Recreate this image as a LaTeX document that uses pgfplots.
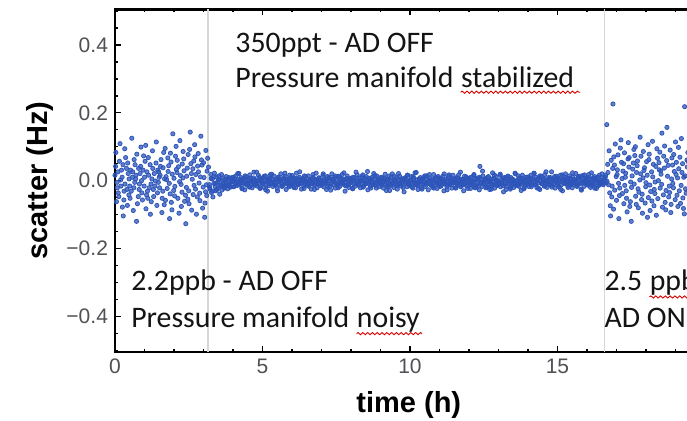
\documentclass[border=0pt]{standalone}
\usepackage{fontspec}
\setmainfont{Liberation Sans}
\newfontfamily\carlito{Carlito}
\usepackage{pgfplots}
\pgfplotsset{compat=1.18}
\usetikzlibrary{decorations.pathmorphing}
\definecolor{dotblue}{RGB}{45,85,185}
\definecolor{ticklab}{RGB}{80,80,85}
\definecolor{sepgray}{RGB}{215,215,215}
\begin{document}
\begin{tikzpicture}
\begin{axis}[
  scale only axis, width=295pt, height=171.35pt,
  xmin=0, xmax=20, ymin=-0.505, ymax=0.505,
  xtick={0,5,10,15,20}, xticklabels={0,5,10,15,20},
  ytick={-0.4,-0.2,0,0.2,0.4}, yticklabels={−0.4,−0.2,0.0,0.2,0.4},
  minor xtick={0,1,...,20},
  minor ytick={-0.5,-0.45,...,0.51},
  tick align=inside,
  major tick length=2.8pt, minor tick length=1.5pt,
  tick style={black, line width=0.7pt},
  axis line style={line width=1.3pt, black},
  tick label style={font=\fontsize{10.5}{12}\selectfont, text=ticklab},
  every axis x label/.style={at={(axis description cs:0.498,-0.155)}, anchor=center, font=\bfseries\fontsize{14.5}{17}\selectfont},
  every axis y label/.style={at={(axis description cs:-0.127,0.5)}, anchor=center, rotate=90, font=\bfseries\fontsize{14.5}{17}\selectfont},
  xlabel={time (h)}, ylabel={scatter (Hz)},
  dots/.style={only marks, color=dotblue, mark=*, mark size=1.05pt, mark options={draw=none, fill=dotblue, fill opacity=0.75}},
]
\addplot[sepgray, line width=0.8pt] coordinates {(3.16,-0.6)(3.16,0.6)};
\addplot[sepgray, line width=0.8pt] coordinates {(16.6,-0.6)(16.6,0.6)};
% segment 1: 2.2 ppb, AD off, noisy manifold
\addplot[dots] coordinates {
(0.00,0.016)(0.05,-0.062)(0.02,0.042)(0.08,-0.021)(0.03,0.083)(0.07,-0.005)
(0.13,-0.047)(0.10,0.026)(0.17,0.109)(0.11,-0.036)(0.19,0.002)(0.15,0.057)
(0.25,-0.078)(0.22,0.031)(0.20,-0.016)(0.27,0.047)(0.28,-0.104)(0.24,0.010)
(0.36,0.068)(0.31,-0.031)(0.34,-0.010)(0.39,0.036)(0.30,-0.057)(0.33,0.094)
(0.40,-0.026)(0.45,0.021)(0.42,-0.073)(0.48,0.005)(0.43,0.052)(0.47,-0.042)
(0.53,0.031)(0.50,-0.016)(0.57,0.125)(0.51,-0.052)(0.59,0.010)(0.55,-0.031)
(0.65,0.062)(0.62,-0.088)(0.60,0.026)(0.67,-0.005)(0.68,0.047)(0.64,-0.021)
(0.76,-0.068)(0.71,0.016)(0.74,0.078)(0.79,-0.047)(0.70,0.005)(0.73,-0.120)
(0.80,0.036)(0.85,0.021)(0.82,-0.026)(0.88,0.099)(0.83,-0.010)(0.87,0.042)
(0.93,-0.057)(0.90,0.000)(0.97,0.073)(0.91,-0.036)(0.99,-0.016)(0.95,0.031)
(1.05,-0.083)(1.02,0.057)(1.00,0.010)(1.07,-0.042)(1.08,0.026)(1.04,0.104)
(1.16,-0.021)(1.11,-0.052)(1.14,0.016)(1.19,0.047)(1.10,-0.031)(1.13,0.068)
(1.20,-0.099)(1.25,0.005)(1.22,-0.010)(1.28,0.036)(1.23,-0.062)(1.27,0.088)
(1.33,0.021)(1.30,-0.026)(1.37,-0.001)(1.31,-0.047)(1.39,0.052)(1.35,-0.016)
(1.45,0.031)(1.42,-0.073)(1.40,0.114)(1.47,-0.005)(1.48,0.026)(1.44,-0.036)
(1.56,0.062)(1.51,-0.021)(1.54,0.042)(1.59,-0.094)(1.50,0.010)(1.53,0.016)
(1.60,-0.052)(1.65,0.083)(1.62,-0.031)(1.68,0.005)(1.63,0.038)(1.67,-0.071)
(1.73,0.012)(1.70,0.095)(1.77,-0.023)(1.71,-0.058)(1.79,0.067)(1.75,0.003)
(1.85,-0.112)(1.82,0.044)(1.80,0.027)(1.87,-0.039)(1.88,0.081)(1.84,-0.008)
(1.96,0.138)(1.91,-0.064)(1.94,0.019)(1.99,-0.029)(1.90,0.055)(1.93,-0.086)
(2.00,0.007)(2.05,0.072)(2.02,-0.045)(2.08,0.033)(2.03,-0.017)(2.07,0.101)
(2.13,-0.052)(2.10,0.024)(2.17,-0.096)(2.11,0.060)(2.19,-0.003)(2.15,0.041)
(2.25,-0.076)(2.22,0.015)(2.20,0.118)(2.27,-0.034)(2.28,0.049)(2.24,-0.011)
(2.36,-0.061)(2.31,0.086)(2.34,0.029)(2.39,-0.043)(2.30,0.008)(2.33,0.064)
(2.40,-0.127)(2.45,0.037)(2.42,-0.020)(2.48,0.077)(2.43,0.013)(2.47,-0.055)
(2.53,0.092)(2.50,-0.030)(2.57,0.050)(2.51,-0.068)(2.59,0.021)(2.55,0.143)
(2.65,-0.041)(2.62,0.004)(2.60,-0.087)(2.67,0.058)(2.68,-0.014)(2.64,0.035)
(2.76,-0.099)(2.71,0.070)(2.74,0.018)(2.79,-0.048)(2.70,0.106)(2.73,-0.025)
(2.80,0.043)(2.85,-0.007)(2.82,0.080)(2.88,-0.059)(2.83,0.026)(2.87,-0.037)
(2.93,0.061)(2.90,0.011)(2.97,-0.081)(2.91,0.131)(2.99,-0.019)(2.95,0.046)
(3.05,-0.066)(3.02,0.009)(3.00,0.053)(3.07,-0.033)(3.08,0.089)(3.04,-0.108)
(3.12,0.028)(3.10,-0.012)(3.14,0.066)(3.11,-0.044)
};
% segment 2: 350 ppt, AD off, stabilized manifold
\addplot[dots] coordinates {
(3.17,0.040)(3.20,-0.012)(3.22,-0.025)(3.25,0.018)(3.27,-0.035)(3.30,0.005)(3.32,-0.048)(3.35,-0.008)(3.37,0.022)(3.40,-0.018)(3.42,-0.030)(3.45,0.010)(3.47,-0.005)(3.50,-0.022)(3.52,0.014)(3.55,-0.040)(3.57,0.002)(3.60,-0.015)(3.62,-0.028)(3.65,0.008)(3.67,-0.010)(3.70,-0.020)(3.72,0.003)(3.75,-0.016)(3.77,0.012)(3.80,-0.009)(3.82,-0.024)(3.85,0.000)(3.87,-0.013)(3.90,0.006)(3.92,-0.019)(3.95,-0.004)(3.97,0.009)
(4.00,0.000)(4.02,-0.018)(4.05,0.005)(4.07,-0.009)(4.10,0.014)(4.12,-0.005)(4.15,-0.014)(4.17,0.003)(4.20,0.021)(4.22,-0.012)(4.25,-0.004)(4.27,0.009)(4.30,-0.022)(4.32,0.003)(4.35,-0.008)(4.37,0.007)(4.40,-0.027)(4.42,-0.001)(4.45,0.012)(4.47,-0.010)(4.50,-0.007)(4.52,0.004)(4.55,-0.017)(4.57,0.017)(4.60,-0.010)(4.62,0.001)(4.65,-0.021)(4.67,-0.003)(4.70,0.008)(4.72,-0.013)(4.75,0.003)(4.77,-0.008)(4.80,0.025)(4.82,-0.016)(4.85,-0.001)(4.87,-0.010)(4.90,0.010)(4.92,-0.023)(4.95,0.003)(4.97,-0.005)
(5.00,0.007)(5.02,-0.009)(5.05,-0.020)(5.07,0.000)(5.10,0.014)(5.12,-0.014)(5.15,-0.003)(5.17,-0.031)(5.20,0.004)(5.22,0.001)(5.25,-0.010)(5.27,0.018)(5.30,-0.007)(5.32,0.005)(5.35,-0.017)(5.37,-0.004)(5.40,0.013)(5.42,-0.012)(5.45,-0.008)(5.47,0.003)(5.50,-0.022)(5.52,0.009)(5.55,-0.001)(5.57,-0.013)(5.60,0.003)(5.62,0.020)(5.65,-0.009)(5.67,-0.016)(5.70,0.000)(5.72,0.007)(5.75,-0.010)(5.77,0.012)(5.80,-0.026)(5.82,-0.003)(5.85,-0.007)(5.87,0.004)(5.90,-0.018)(5.92,0.016)(5.95,0.001)(5.97,-0.010)
(6.00,-0.004)(6.02,-0.014)(6.05,0.008)(6.07,-0.008)(6.10,0.003)(6.12,-0.021)(6.15,0.022)(6.17,-0.005)(6.20,0.003)(6.22,-0.012)(6.25,0.010)(6.27,-0.009)(6.30,0.005)(6.32,-0.025)(6.35,-0.001)(6.37,0.000)(6.40,-0.016)(6.42,0.014)(6.45,-0.010)(6.47,-0.003)(6.50,-0.003)(6.52,-0.010)(6.55,0.014)(6.57,-0.016)(6.60,0.000)(6.62,-0.001)(6.65,-0.025)(6.67,0.005)(6.70,-0.009)(6.72,0.010)(6.75,-0.012)(6.77,0.003)(6.80,-0.005)(6.82,0.022)(6.85,-0.021)(6.87,0.003)(6.90,-0.008)(6.92,0.008)(6.95,-0.014)(6.97,-0.004)
(7.00,-0.010)(7.02,0.001)(7.05,0.016)(7.07,-0.018)(7.10,0.004)(7.12,-0.007)(7.15,-0.003)(7.17,-0.026)(7.20,0.012)(7.22,-0.010)(7.25,0.007)(7.27,0.000)(7.30,-0.016)(7.32,-0.009)(7.35,0.020)(7.37,0.003)(7.40,-0.013)(7.42,-0.001)(7.45,0.009)(7.47,-0.022)(7.50,0.003)(7.52,-0.008)(7.55,-0.012)(7.57,0.013)(7.60,-0.004)(7.62,-0.017)(7.65,0.005)(7.67,-0.007)(7.70,0.018)(7.72,-0.010)(7.75,0.001)(7.77,0.004)(7.80,-0.031)(7.82,-0.003)(7.85,-0.014)(7.87,0.014)(7.90,0.000)(7.92,-0.020)(7.95,-0.009)(7.97,0.007)
(8.00,-0.005)(8.02,0.003)(8.05,-0.023)(8.07,0.010)(8.10,-0.010)(8.12,-0.001)(8.15,-0.016)(8.17,0.025)(8.20,-0.008)(8.22,0.003)(8.25,-0.013)(8.27,0.008)(8.30,-0.003)(8.32,-0.021)(8.35,0.001)(8.37,-0.010)(8.40,0.017)(8.42,-0.017)(8.45,0.004)(8.47,-0.007)(8.50,-0.010)(8.52,0.012)(8.55,-0.001)(8.57,-0.027)(8.60,0.007)(8.62,-0.008)(8.65,0.003)(8.67,-0.022)(8.70,0.009)(8.72,-0.004)(8.75,-0.012)(8.77,0.021)(8.80,0.003)(8.82,-0.014)(8.85,-0.005)(8.87,0.014)(8.90,-0.009)(8.92,0.005)(8.95,-0.018)(8.97,0.000)
(9.00,-0.008)(9.02,0.010)(9.05,-0.013)(9.07,0.001)(9.10,-0.022)(9.12,-0.003)(9.15,0.007)(9.17,-0.010)(9.20,-0.029)(9.22,0.004)(9.25,-0.004)(9.27,-0.017)(9.30,0.014)(9.32,-0.010)(9.35,0.000)(9.37,-0.014)(9.40,0.020)(9.42,-0.007)(9.45,-0.020)(9.47,0.003)(9.50,-0.001)(9.52,-0.012)(9.55,0.009)(9.57,-0.025)(9.60,0.003)(9.62,-0.009)(9.65,0.013)(9.67,-0.005)(9.70,-0.016)(9.72,0.005)(9.75,-0.010)(9.77,0.000)(9.80,-0.033)(9.82,0.008)(9.85,-0.007)(9.87,0.003)(9.90,-0.018)(9.92,0.016)(9.95,-0.010)(9.97,-0.003)
(10.00,-0.014)(10.02,0.001)(10.05,0.012)(10.07,-0.008)(10.10,-0.022)(10.12,0.007)(10.15,-0.005)(10.17,0.023)(10.20,-0.012)(10.22,-0.009)(10.25,0.003)(10.27,-0.026)(10.30,-0.001)(10.32,-0.013)(10.35,0.009)(10.37,-0.004)(10.40,-0.021)(10.42,0.004)(10.45,0.000)(10.47,-0.010)(10.50,0.014)(10.52,-0.017)(10.55,-0.007)(10.57,0.005)(10.60,-0.010)(10.62,-0.027)(10.65,0.001)(10.67,0.008)(10.70,-0.008)(10.72,-0.014)(10.75,0.003)(10.77,-0.020)(10.80,0.018)(10.82,-0.005)(10.85,-0.001)(10.87,-0.012)(10.90,0.010)(10.92,-0.023)(10.95,-0.009)(10.97,0.003)
(11.00,-0.004)(11.02,0.007)(11.05,-0.016)(11.07,0.000)(11.10,-0.010)(11.12,0.013)(11.15,-0.030)(11.17,-0.003)(11.20,-0.010)(11.22,0.004)(11.25,-0.018)(11.27,0.001)(11.30,-0.013)(11.32,0.017)(11.35,-0.007)(11.37,-0.008)(11.40,0.008)(11.42,-0.022)(11.45,0.003)(11.47,-0.005)(11.50,-0.005)(11.52,0.003)(11.55,-0.022)(11.57,0.008)(11.60,-0.008)(11.62,-0.007)(11.65,0.017)(11.67,-0.013)(11.70,0.001)(11.72,-0.018)(11.75,0.004)(11.77,-0.010)(11.80,-0.003)(11.82,-0.030)(11.85,0.013)(11.87,-0.010)(11.90,0.000)(11.92,-0.016)(11.95,0.007)(11.97,-0.004)
(12.00,0.003)(12.02,-0.009)(12.05,-0.023)(12.07,0.010)(12.10,-0.012)(12.12,-0.001)(12.15,-0.005)(12.17,0.018)(12.20,-0.020)(12.22,0.003)(12.25,-0.014)(12.27,-0.008)(12.30,0.008)(12.32,0.001)(12.35,-0.027)(12.37,0.042)(12.40,0.005)(12.42,-0.007)(12.45,-0.017)(12.47,0.014)(12.50,-0.010)(12.52,0.000)(12.55,0.004)(12.57,-0.021)(12.60,-0.004)(12.62,0.009)(12.65,-0.013)(12.67,-0.001)(12.70,-0.026)(12.72,0.003)(12.75,-0.009)(12.77,-0.012)(12.80,0.023)(12.82,-0.005)(12.85,0.007)(12.87,-0.022)(12.90,-0.008)(12.92,0.012)(12.95,0.001)(12.97,-0.014)
(13.00,-0.003)(13.02,-0.010)(13.05,0.016)(13.07,-0.018)(13.10,0.003)(13.12,-0.007)(13.15,0.008)(13.17,-0.033)(13.20,0.000)(13.22,-0.010)(13.25,0.005)(13.27,-0.016)(13.30,-0.005)(13.32,0.013)(13.35,-0.009)(13.37,0.003)(13.40,-0.025)(13.42,0.009)(13.45,-0.012)(13.47,-0.001)(13.50,0.003)(13.52,-0.020)(13.55,-0.007)(13.57,0.020)(13.60,-0.014)(13.62,0.000)(13.65,-0.010)(13.67,0.014)(13.70,-0.017)(13.72,-0.004)(13.75,0.004)(13.77,-0.029)(13.80,-0.010)(13.82,0.007)(13.85,-0.003)(13.87,-0.022)(13.90,0.001)(13.92,-0.013)(13.95,0.010)(13.97,-0.008)
(14.00,0.001)(14.02,-0.017)(14.05,0.007)(14.07,-0.008)(14.10,0.016)(14.12,-0.004)(14.15,-0.013)(14.17,0.004)(14.20,0.022)(14.22,-0.010)(14.25,-0.003)(14.27,0.010)(14.30,-0.021)(14.32,0.004)(14.35,-0.007)(14.37,0.008)(14.40,-0.026)(14.42,0.000)(14.45,0.013)(14.47,-0.009)(14.50,-0.005)(14.52,0.005)(14.55,-0.016)(14.57,0.018)(14.60,-0.009)(14.62,0.003)(14.65,-0.020)(14.67,-0.001)(14.70,0.009)(14.72,-0.012)(14.75,0.004)(14.77,-0.007)(14.80,0.026)(14.82,-0.014)(14.85,0.000)(14.87,-0.009)(14.90,0.012)(14.92,-0.022)(14.95,0.004)(14.97,-0.004)
(15.00,0.008)(15.02,-0.008)(15.05,-0.018)(15.07,0.001)(15.10,0.016)(15.12,-0.013)(15.15,-0.001)(15.17,-0.030)(15.20,0.005)(15.22,0.003)(15.25,-0.009)(15.27,0.020)(15.30,-0.005)(15.32,0.007)(15.35,-0.016)(15.37,-0.003)(15.40,0.014)(15.42,-0.010)(15.45,-0.007)(15.47,0.004)(15.50,-0.021)(15.52,0.010)(15.55,0.000)(15.57,-0.012)(15.60,0.004)(15.62,0.021)(15.65,-0.008)(15.67,-0.014)(15.70,0.001)(15.72,0.008)(15.75,-0.009)(15.77,0.013)(15.80,-0.025)(15.82,-0.001)(15.85,-0.005)(15.87,0.005)(15.90,-0.017)(15.92,0.017)(15.95,0.003)(15.97,-0.009)
(16.00,-0.003)(16.02,-0.013)(16.05,0.009)(16.07,-0.007)(16.10,0.004)(16.12,-0.020)(16.15,0.023)(16.17,-0.004)(16.20,0.004)(16.22,-0.010)(16.25,0.012)(16.27,-0.008)(16.30,0.007)(16.32,-0.023)(16.35,0.000)(16.37,0.001)(16.40,-0.014)(16.42,0.016)(16.45,-0.009)(16.47,-0.001)(16.50,-0.004)(16.52,0.008)(16.55,-0.012)(16.57,0.003)
};
\addplot[dots] coordinates {
(3.21,-0.020)(3.26,0.006)(3.31,-0.031)(3.36,0.012)(3.41,-0.009)(3.46,-0.026)(3.51,0.002)(3.56,-0.014)(3.61,0.018)(3.66,-0.007)(3.71,-0.022)(3.76,0.004)(3.81,-0.012)(3.86,0.009)(3.91,-0.018)(3.96,-0.003)
(4.01,0.010)(4.06,-0.016)(4.11,-0.002)(4.16,0.021)(4.21,-0.009)(4.26,0.003)(4.31,-0.024)(4.36,-0.006)(4.41,0.014)(4.46,-0.013)(4.51,0.000)(4.56,-0.019)(4.61,0.007)(4.66,-0.004)(4.71,0.025)(4.76,-0.011)(4.81,-0.001)(4.86,0.016)(4.91,-0.021)(4.96,0.005)
(5.01,-0.008)(5.06,0.013)(5.11,-0.027)(5.16,0.001)(5.21,-0.015)(5.26,0.008)(5.31,0.019)(5.36,-0.005)(5.41,-0.012)(5.46,0.003)(5.51,-0.030)(5.56,0.011)(5.61,-0.002)(5.66,-0.017)(5.71,0.006)(5.76,0.022)(5.81,-0.009)(5.86,0.000)(5.91,-0.014)(5.96,0.009)
(6.01,0.015)(6.06,-0.020)(6.11,-0.004)(6.16,0.007)(6.21,-0.011)(6.26,0.026)(6.31,-0.007)(6.36,0.002)(6.41,-0.023)(6.46,0.012)(6.51,-0.001)(6.56,-0.016)(6.61,0.004)(6.66,-0.008)(6.71,0.018)(6.76,-0.026)(6.81,0.003)(6.86,-0.010)(6.91,0.008)(6.96,-0.003)
(7.01,-0.013)(7.06,0.020)(7.11,-0.006)(7.16,0.001)(7.21,-0.018)(7.26,0.010)(7.31,-0.028)(7.36,0.005)(7.41,-0.002)(7.46,0.014)(7.51,-0.009)(7.56,-0.021)(7.61,0.011)(7.66,0.000)(7.71,-0.007)(7.76,0.023)(7.81,-0.015)(7.86,0.006)(7.91,-0.012)(7.96,0.002)
(8.01,0.004)(8.06,-0.024)(8.11,0.009)(8.16,-0.005)(8.21,0.017)(8.26,-0.013)(8.31,-0.001)(8.36,0.012)(8.41,-0.019)(8.46,0.007)(8.51,-0.008)(8.56,0.027)(8.61,-0.003)(8.66,-0.016)(8.71,0.005)(8.76,-0.010)(8.81,0.015)(8.86,-0.022)(8.91,0.001)(8.96,-0.006)
(9.01,-0.011)(9.06,0.008)(9.11,-0.002)(9.16,0.019)(9.21,-0.017)(9.26,0.003)(9.31,-0.029)(9.36,0.010)(9.41,-0.006)(9.46,0.013)(9.51,0.000)(9.56,-0.014)(9.61,0.021)(9.66,-0.009)(9.71,0.004)(9.76,-0.020)(9.81,0.007)(9.86,-0.003)(9.91,0.016)(9.96,-0.012)
(10.01,0.002)(10.06,-0.019)(10.11,0.011)(10.16,-0.007)(10.21,0.024)(10.26,-0.015)(10.31,0.005)(10.36,-0.001)(10.41,-0.025)(10.46,0.009)(10.51,-0.010)(10.56,0.014)(10.61,-0.004)(10.66,0.018)(10.71,-0.013)(10.76,0.000)(10.81,-0.022)(10.86,0.008)(10.91,-0.006)(10.96,0.012)
(11.01,-0.017)(11.06,0.006)(11.11,-0.003)(11.16,0.020)(11.21,-0.009)(11.26,-0.027)(11.31,0.013)(11.36,0.001)(11.41,-0.012)(11.46,0.016)(11.51,-0.005)(11.56,-0.020)(11.61,0.009)(11.66,-0.002)(11.71,0.025)(11.76,-0.014)(11.81,0.003)(11.86,-0.008)(11.91,0.011)(11.96,-0.023)
(12.01,0.007)(12.06,-0.011)(12.11,-0.001)(12.16,0.015)(12.21,-0.021)(12.26,0.004)(12.31,-0.016)(12.36,0.010)(12.41,-0.006)(12.46,0.028)(12.51,-0.009)(12.56,0.002)(12.61,-0.018)(12.66,0.012)(12.71,-0.003)(12.76,-0.025)(12.81,0.006)(12.86,0.017)(12.91,-0.013)(12.96,0.000)
(13.01,-0.008)(13.06,0.019)(13.11,-0.004)(13.16,-0.015)(13.21,0.009)(13.26,-0.026)(13.31,0.013)(13.36,0.001)(13.41,-0.020)(13.46,0.005)(13.51,-0.010)(13.56,0.022)(13.61,-0.002)(13.66,-0.014)(13.71,0.008)(13.76,-0.007)(13.81,0.016)(13.86,-0.024)(13.91,0.003)(13.96,-0.011)
(14.01,0.011)(14.06,-0.005)(14.11,-0.018)(14.16,0.006)(14.21,0.021)(14.26,-0.012)(14.31,0.000)(14.36,-0.023)(14.41,0.014)(14.46,-0.008)(14.51,0.003)(14.56,-0.016)(14.61,0.026)(14.66,-0.004)(14.71,-0.010)(14.76,0.009)(14.81,-0.019)(14.86,0.005)(14.91,-0.001)(14.96,0.013)
(15.01,-0.014)(15.06,0.004)(15.11,-0.026)(15.16,0.017)(15.21,-0.007)(15.26,0.010)(15.31,-0.002)(15.36,-0.020)(15.41,0.007)(15.46,-0.012)(15.51,0.023)(15.56,-0.006)(15.61,0.001)(15.66,-0.017)(15.71,0.012)(15.76,-0.009)(15.81,-0.028)(15.86,0.015)(15.91,-0.003)(15.96,0.006)
(16.01,-0.010)(16.06,0.018)(16.11,-0.005)(16.16,-0.015)(16.21,0.008)(16.26,-0.022)(16.31,0.003)(16.36,0.011)(16.41,-0.013)(16.46,-0.001)(16.51,0.020)(16.56,-0.008)
};
% segment 3: 2.5 ppb, AD on
\addplot[dots] coordinates {
(16.60,0.004)(16.65,-0.006)(16.62,0.010)(16.68,-0.002)(16.63,0.016)(16.67,0.165)
(16.73,-0.012)(16.70,0.048)(16.77,-0.036)(16.71,0.024)(16.79,-0.074)(16.75,0.088)
(16.85,-0.016)(16.82,0.060)(16.80,-0.104)(16.87,0.036)(16.88,0.226)(16.84,-0.048)
(16.96,0.108)(16.91,0.070)(16.94,-0.028)(16.99,0.012)(16.90,-0.084)(16.93,0.046)
(17.00,-0.058)(17.05,0.076)(17.02,0.018)(17.08,-0.112)(17.03,0.032)(17.07,-0.008)
(17.13,0.096)(17.10,-0.044)(17.17,0.054)(17.11,-0.022)(17.19,0.006)(17.15,0.120)
(17.25,-0.068)(17.22,0.028)(17.20,-0.038)(17.27,0.082)(17.28,-0.014)(17.24,0.050)
(17.36,-0.092)(17.31,0.022)(17.34,-0.052)(17.39,0.064)(17.30,0.010)(17.33,-0.030)
(17.40,0.112)(17.45,-0.076)(17.42,0.040)(17.48,-0.004)(17.43,0.068)(17.47,-0.062)
(17.53,0.014)(17.50,-0.120)(17.57,0.052)(17.51,-0.020)(17.59,0.092)(17.55,0.034)
(17.65,-0.046)(17.62,0.074)(17.60,-0.010)(17.67,-0.070)(17.68,0.024)(17.64,0.100)
(17.76,-0.034)(17.71,0.058)(17.74,-0.080)(17.79,0.002)(17.70,0.044)(17.73,-0.024)
(17.80,0.128)(17.85,-0.056)(17.82,0.020)(17.88,-0.096)(17.83,0.072)(17.87,-0.040)
(17.93,0.030)(17.90,0.008)(17.97,-0.066)(17.91,0.086)(17.99,-0.018)(17.95,0.038)
(18.05,-0.108)(18.02,0.056)(18.00,-0.006)(18.07,0.106)(18.08,-0.050)(18.04,0.016)
(18.16,-0.032)(18.11,0.078)(18.14,-0.088)(18.19,0.026)(18.10,0.062)(18.13,-0.013)
(18.20,-0.060)(18.25,0.048)(18.22,0.116)(18.28,-0.026)(18.23,0.011)(18.27,-0.074)
(18.33,0.042)(18.30,-0.038)(18.37,0.094)(18.31,-0.004)(18.39,0.066)(18.35,-0.102)
(18.45,0.032)(18.42,0.000)(18.40,-0.053)(18.47,0.084)(18.48,-0.022)(18.44,0.053)
(18.56,-0.078)(18.51,0.019)(18.54,0.140)(18.59,-0.042)(18.50,0.029)(18.53,-0.011)
(18.60,0.072)(18.65,-0.064)(18.62,0.037)(18.68,-0.029)(18.63,0.102)(18.67,-0.086)
(18.73,0.013)(18.70,0.059)(18.77,-0.048)(18.71,0.157)(18.79,-0.016)(18.75,0.045)
(18.85,-0.070)(18.82,0.090)(18.80,-0.035)(18.87,0.005)(18.88,0.067)(18.84,-0.094)
(18.96,0.027)(18.91,-0.008)(18.94,0.077)(18.99,-0.056)(18.90,0.046)(18.93,-0.021)
(19.00,0.114)(19.05,-0.043)(19.02,0.018)(19.08,-0.076)(19.03,0.054)(19.07,0.008)
(19.13,-0.030)(19.10,0.098)(19.17,-0.067)(19.11,0.035)(19.19,-0.014)(19.15,0.069)
(19.25,-0.051)(19.22,0.024)(19.20,0.124)(19.27,-0.082)(19.28,0.010)(19.24,0.050)
(19.36,-0.037)(19.31,0.218)(19.34,-0.024)(19.39,0.061)(19.30,-0.098)(19.33,0.014)
(19.40,0.040)(19.45,-0.027)(19.42,0.083)(19.48,-0.010)(19.43,0.056)(19.47,-0.072)
};
% annotations
\tikzset{ann/.style={anchor=base west, inner sep=0pt, text=black!92, font=\carlito\fontsize{14.9}{17}\selectfont},
  squig/.style={red!85!black, line width=0.45pt, decorate, decoration={snake, amplitude=0.55pt, segment length=2.4pt}}}
\node[ann] at (axis cs:4.07,0.379) {350ppt - AD OFF};
\node[ann] (s1) at (axis cs:4.07,0.276) {Pressure manifold};
\node[ann] (s2) at ([xshift=3.4pt]s1.base east) {stabilized};
\draw[squig] ([yshift=-2.6pt]s2.base west) -- ([xshift=3pt,yshift=-2.6pt]s2.base east);
\node[ann] at (axis cs:0.54,-0.324) {2.2ppb - AD OFF};
\node[ann] (n1) at (axis cs:0.54,-0.432) {Pressure manifold};
\node[ann] (n2) at ([xshift=3.4pt]n1.base east) {noisy};
\draw[squig] ([yshift=-3.2pt]n2.base west) -- ([xshift=1pt,yshift=-3.2pt]n2.base east);
\node[ann] (p1) at (axis cs:16.58,-0.324) {2.5};
\node[ann] (p2) at ([xshift=3.4pt]p1.base east) {ppb};
\draw[squig] ([yshift=-3.2pt]p2.base west) -- ([yshift=-3.2pt]p2.base east);
\node[ann] at (axis cs:16.58,-0.432) {AD ON};
\end{axis}
\pgfresetboundingbox
\path[use as bounding box] (-57.5pt,-34.5pt) rectangle (286pt,176pt);
\end{tikzpicture}
\end{document}
